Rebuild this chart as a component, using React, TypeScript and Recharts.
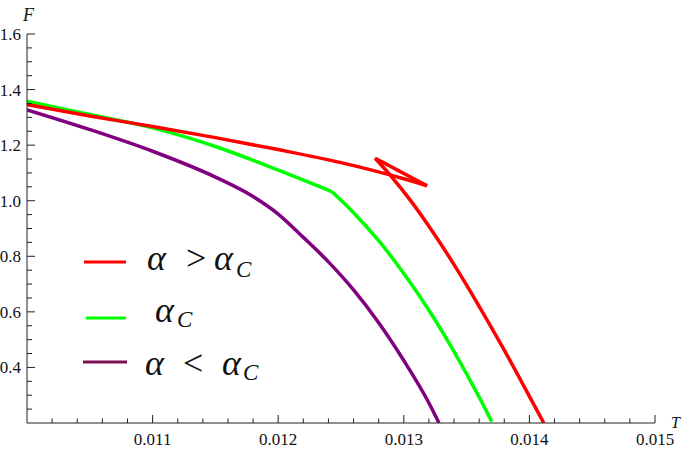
import React from "react";
import { LineChart, Line, XAxis, YAxis } from "recharts";

// axis ranges and ticks
const T_DOMAIN: [number, number] = [0.01, 0.015];
const F_DOMAIN: [number, number] = [0.2, 1.6];
const T_MAJOR = [0.011, 0.012, 0.013, 0.014, 0.015];
const T_LABELS = ["0.011", "0.012", "0.013", "0.014", "0.015"];
const T_MINOR = [
  0.0102, 0.0104, 0.0106, 0.0108, 0.0112, 0.0114, 0.0116, 0.0118,
  0.0122, 0.0124, 0.0126, 0.0128, 0.0132, 0.0134, 0.0136, 0.0138,
  0.0142, 0.0144, 0.0146, 0.0148,
];
const F_MAJOR = [0.4, 0.6, 0.8, 1.0, 1.2, 1.4, 1.6];
const F_LABELS = ["0.4", "0.6", "0.8", "1.0", "1.2", "1.4", "1.6"];
const F_MINOR = [
  0.25, 0.3, 0.35, 0.45, 0.5, 0.55, 0.65, 0.7, 0.75, 0.85, 0.9, 0.95,
  1.05, 1.1, 1.15, 1.25, 1.3, 1.35, 1.45, 1.5, 1.55,
];

// alpha > alpha_C : swallowtail (upper, middle, lower branch)
const redUpperT = [0.01, 0.0105, 0.011, 0.0115, 0.012, 0.0125, 0.013, 0.013185];
const redUpperF = [1.346, 1.305, 1.267, 1.227, 1.184, 1.137, 1.079, 1.054];
const redMiddleT = [0.012771, 0.0129, 0.01305, 0.013185];
const redMiddleF = [1.153, 1.122, 1.086, 1.054];
const redLowerT = [0.012771, 0.0129, 0.01305, 0.0132, 0.0134, 0.0136, 0.0138, 0.014, 0.014115];
const redLowerF = [1.153, 1.088, 1.003, 0.908, 0.77, 0.62, 0.462, 0.296, 0.2];

// alpha_C : kink at T ~ 0.01243
const greenUpperT = [0.01, 0.0105, 0.011, 0.0115, 0.012, 0.012426];
const greenUpperF = [1.358, 1.31, 1.262, 1.195, 1.11, 1.033];
const greenLowerT = [0.012426, 0.0126, 0.0128, 0.013, 0.0132, 0.0134, 0.0136, 0.0137];
const greenLowerF = [1.033, 0.957, 0.856, 0.738, 0.606, 0.457, 0.293, 0.205];

// alpha < alpha_C
const purpleT = [0.01, 0.0105, 0.011, 0.0115, 0.0118, 0.012, 0.0122, 0.0124, 0.0126, 0.0128, 0.013, 0.0132, 0.01328];
const purpleF = [1.327, 1.256, 1.178, 1.085, 1.015, 0.952, 0.868, 0.78, 0.679, 0.561, 0.425, 0.272, 0.2];

const RED = "#ff0000";
const GREEN = "#00ff00";
const PURPLE = "#800080";
const PURPLE_KEY = "#7a1050";
const AXIS = "#222";
const FONT = "'Liberation Serif', 'Times New Roman', serif";

const zip = (ts: number[], fs: number[]) => ts.map((t, i) => ({ T: t, F: fs[i] }));

const XTick = (props: any) => {
  const { x, y, payload } = props;
  const idx = T_MAJOR.findIndex(m => Math.abs(m - payload.value) < 1e-9);
  const major = idx >= 0;
  return (
    <g>
      <line x1={x} x2={x} y1={y} y2={y - (major ? 8 : 4.5)} stroke={AXIS} strokeWidth={1} />
      {major && (
        <text x={x} y={y + 22} textAnchor="middle" fontFamily={FONT} fontSize={17} fill="#111">
          {T_LABELS[idx]}
        </text>
      )}
    </g>
  );
};

const YTick = (props: any) => {
  const { x, y, payload } = props;
  const idx = F_MAJOR.findIndex(m => Math.abs(m - payload.value) < 1e-9);
  const major = idx >= 0;
  return (
    <g>
      <line x1={x} x2={x + (major ? 8 : 5)} y1={y} y2={y} stroke={AXIS} strokeWidth={1} />
      {major && (
        <text x={x - 6} y={y + 6} textAnchor="end" fontFamily={FONT} fontSize={17} fill="#111">
          {F_LABELS[idx]}
        </text>
      )}
    </g>
  );
};

const seriesLine = (key: string, data: { T: number; F: number }[], color: string) => (
  <Line
    key={key}
    data={data}
    dataKey="F"
    type="monotone"
    stroke={color}
    strokeWidth={3.5}
    dot={false}
    activeDot={false}
    isAnimationActive={false}
  />
);

export default function App() {
  const tTicks = [...T_MINOR, ...T_MAJOR].sort((a, b) => a - b);
  const fTicks = [...F_MINOR, ...F_MAJOR].sort((a, b) => a - b);
  return (
    <div style={{ position: "relative", width: 685, height: 450, background: "#fff" }}>
      <style>{`body{margin:0}`}</style>
      <LineChart width={685} height={450} margin={{ top: 34, right: 30, bottom: 26, left: 26 }}>
        <XAxis
          dataKey="T"
          type="number"
          domain={T_DOMAIN}
          allowDataOverflow
          ticks={tTicks}
          interval={0}
          height={1}
          tickSize={0}
          tickMargin={0}
          tickLine={false}
          tick={XTick}
          axisLine={{ stroke: AXIS, strokeWidth: 1 }}
        />
        <YAxis
          dataKey="F"
          type="number"
          domain={F_DOMAIN}
          allowDataOverflow
          ticks={fTicks}
          interval={0}
          width={1}
          tickSize={0}
          tickMargin={0}
          tickLine={false}
          tick={YTick}
          axisLine={{ stroke: AXIS, strokeWidth: 1 }}
        />
        {seriesLine("purple", zip(purpleT, purpleF), PURPLE)}
        {seriesLine("greenU", zip(greenUpperT, greenUpperF), GREEN)}
        {seriesLine("greenL", zip(greenLowerT, greenLowerF), GREEN)}
        {seriesLine("redU", zip(redUpperT, redUpperF), RED)}
        {seriesLine("redM", zip(redMiddleT, redMiddleF), RED)}
        {seriesLine("redL", zip(redLowerT, redLowerF), RED)}
      </LineChart>
      <svg width={685} height={450} style={{ position: "absolute", left: 0, top: 0, pointerEvents: "none" }}>
        <text x={23} y={21} fontFamily={FONT} fontStyle="italic" fontSize={18} fill="#111">F</text>
        <text x={671} y={428} fontFamily={FONT} fontStyle="italic" fontSize={16} fill="#111">T</text>

        <line x1={84} x2={126} y1={262} y2={262} stroke={RED} strokeWidth={3} />
        <text y={270} fontFamily={FONT} fontStyle="italic" fontSize={36} fill="#111">
          <tspan x={147}>α</tspan>
          <tspan x={186} fontStyle="normal">&gt;</tspan>
          <tspan x={214}>α</tspan>
          <tspan x={236} y={277} fontSize={23}>C</tspan>
        </text>

        <line x1={86} x2={126} y1={318} y2={318} stroke={GREEN} strokeWidth={3} />
        <text y={322} fontFamily={FONT} fontStyle="italic" fontSize={36} fill="#111">
          <tspan x={155}>α</tspan>
          <tspan x={177} y={327} fontSize={23}>C</tspan>
        </text>

        <line x1={83} x2={127} y1={362} y2={362} stroke={PURPLE_KEY} strokeWidth={3} />
        <text y={375} fontFamily={FONT} fontStyle="italic" fontSize={36} fill="#111">
          <tspan x={145}>α</tspan>
          <tspan x={183} fontStyle="normal">&lt;</tspan>
          <tspan x={222}>α</tspan>
          <tspan x={243} y={380} fontSize={23}>C</tspan>
        </text>
      </svg>
    </div>
  );
}
